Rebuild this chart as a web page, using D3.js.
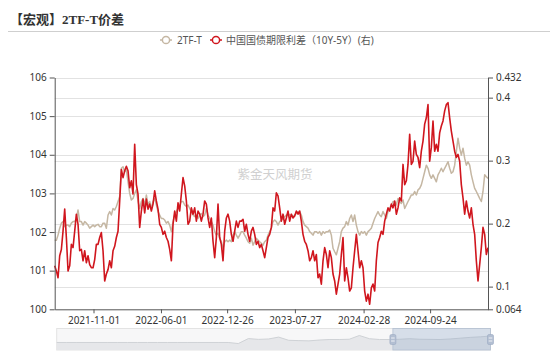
<!DOCTYPE html>
<html><head><meta charset="utf-8">
<script src="https://cdn.jsdelivr.net/npm/d3@7"></script>
<style>body{margin:0;background:#fff;} svg{display:block;}</style>
</head><body><svg id="c" width="550" height="356"></svg>
<script>
const titleText = "【宏观】2TF-T价差";
const seriesNames = ["2TF-T", "中国国债期限利差（10Y-5Y）(右)"];
const watermark = "紫金天风期货";
const startDate = "2021-07-02", endDate = "2025-03-25";
const tickLabels = ["2021-11-01","2022-06-01","2022-12-26","2023-07-27","2024-02-28","2024-09-24"];
const leftTicks = [100,101,102,103,104,105,106];
const rightTicks = [0.064,0.1,0.2,0.3,0.4,0.432];

const spread2TF_T = [
101.79,101.79,101.92,102.10,102.23,102.27,102.14,102.18,102.18,102.14,
102.23,102.27,102.27,102.35,102.57,102.27,102.27,102.18,102.27,102.23,
102.18,102.10,102.14,102.18,102.14,102.18,102.20,102.14,102.14,102.23,
102.23,102.10,102.44,102.53,102.44,102.61,102.57,102.66,102.79,102.92,
103.65,103.69,103.56,103.61,103.30,103.00,102.83,102.87,103.00,103.09,
102.79,
102.61,102.79,102.87,102.70,102.96,102.70,102.79,102.61,102.79,102.87,
102.70,102.53,102.44,102.35,102.35,102.31,102.23,102.27,102.18,102.01,
102.27,102.44,102.53,102.61,102.70,102.79,102.79,102.70,102.66,102.70,
102.61,102.53,102.44,102.40,102.44,102.35,102.44,102.48,102.40,102.44,
102.61,102.44,102.35,102.27,102.18,102.01,101.92,101.97,101.84,101.75,
101.58,101.75,101.79,
101.75,101.79,101.75,101.92,102.01,101.92,101.84,101.92,102.01,102.01,
101.92,101.84,101.75,101.71,101.84,101.66,101.75,101.84,101.79,101.75,
101.71,101.66,101.75,101.79,101.92,102.01,102.10,102.27,102.31,102.27,
102.18,102.27,102.31,102.35,102.40,102.44,102.48,102.44,102.44,102.40,
102.44,102.48,102.53,102.53,102.44,102.27,102.18,102.14,102.10,102.01,
101.97,101.92,102.01,
102.01,101.97,102.01,101.92,102.01,101.97,102.01,102.01,102.05,101.92,
101.58,101.49,101.41,101.58,101.75,102.01,102.10,102.14,102.27,102.18,
102.35,102.44,102.27,102.44,102.18,102.01,101.92,102.01,101.97,102.01,
101.92,102.01,102.05,102.10,102.23,102.35,102.44,102.53,102.44,102.40,
102.53,102.44,102.35,102.53,102.61,102.70,102.79,102.79,102.70,102.87,
102.79,102.74,102.83,
102.61,102.70,102.79,102.87,102.96,102.96,103.05,102.96,103.09,103.13,
103.22,103.39,103.56,103.73,103.65,103.48,103.39,103.48,103.39,103.30,
103.48,103.56,103.65,103.56,103.65,103.73,103.82,103.65,103.52,103.56,
103.73,104.08,104.43,104.17,103.99,104.17,103.91,103.73,103.82,103.73,
103.48,103.30,103.13,103.05,102.96,102.87,102.79,103.05,103.48,103.43,
103.39
];

const termSpread = [
0.133,0.125,0.114,0.149,0.159,0.188,0.223,0.178,0.125,0.133,
0.167,0.162,0.188,0.215,0.199,0.157,0.159,0.141,0.157,0.138,
0.149,0.135,0.130,0.130,0.143,0.167,0.167,0.178,0.186,0.157,
0.109,0.120,0.127,0.141,0.130,0.157,0.164,0.178,0.188,0.236,
0.286,0.273,0.284,0.291,0.284,0.257,0.268,0.247,0.326,0.262,
0.247,
0.194,0.220,0.239,0.217,0.239,0.223,0.231,0.220,0.231,0.252,
0.236,0.223,0.199,0.194,0.183,0.188,0.178,0.172,0.159,0.141,
0.199,0.220,0.204,0.233,0.220,0.247,0.273,0.260,0.236,0.199,
0.204,0.225,0.215,0.225,0.204,0.220,0.215,0.204,0.215,0.236,
0.231,0.209,0.194,0.209,0.172,0.146,0.178,0.231,0.178,0.167,
0.141,0.188,0.209,
0.215,0.204,0.183,0.172,0.188,0.204,0.194,0.204,0.204,0.207,
0.188,0.199,0.183,0.172,0.188,0.194,0.183,0.167,0.172,0.162,
0.167,0.157,0.146,0.162,0.178,0.183,0.194,0.225,0.220,0.249,
0.244,0.225,0.204,0.215,0.199,0.209,0.220,0.204,0.215,0.209,
0.212,0.220,0.215,0.220,0.204,0.183,0.172,0.167,0.157,0.141,
0.146,0.157,0.141,
0.151,0.114,0.120,0.104,0.141,0.162,0.151,0.130,0.157,0.146,
0.120,0.109,0.088,0.104,0.120,0.151,0.178,0.109,0.130,0.114,
0.093,0.098,0.130,0.157,0.183,0.157,0.130,0.141,0.130,0.093,
0.077,0.088,0.072,0.098,0.104,0.093,0.141,0.170,0.178,0.188,
0.183,0.204,0.215,0.225,0.220,0.231,0.225,0.236,0.215,0.225,
0.241,0.236,0.294,
0.262,0.268,0.294,0.342,0.294,0.299,0.331,0.310,0.305,0.289,
0.315,0.331,0.358,0.368,0.389,0.299,0.321,0.363,0.315,0.326,
0.315,0.344,0.355,0.363,0.379,0.389,0.392,0.368,0.347,0.331,
0.315,0.305,0.310,0.299,0.262,0.241,0.215,0.236,0.220,0.209,
0.225,0.199,0.183,0.141,0.109,0.135,0.162,0.194,0.183,0.151,
0.162
];

// overview (dataZoom) shadow, full history
const sliderShadow = [
100.80,100.80,100.80,100.80,100.80,100.80,100.80,100.80,100.80,100.80,
100.80,100.80,100.80,100.80,100.80,100.80,100.80,100.80,100.40,102.25,
101.95,102.10,102.80,101.60,101.50,101.40,101.70,101.90,101.90,102.00,
103.40,102.20,101.90,101.90,102.00,102.20,102.00,101.95,101.90,102.10,
102.40,102.70,102.90,103.20
];
const windowRange = [0.775, 1.0];

const colors = {tan: "#c5b7a3", red: "#d0161e"};
const FONT = "'Noto Sans','Noto Sans CJK SC',sans-serif";

const svg = d3.select("#c");
const m = {l: 54.7, r: 488, t: 77.5, b: 309.3};

const t0 = new Date(startDate), t1 = new Date(endDate);
const n = spread2TF_T.length;
const dates = d3.range(n).map(i => new Date(+t0 + (t1 - t0) * i / (n - 1)));

const x = d3.scaleTime().domain([t0, t1]).range([m.l, m.r]);
const yL = d3.scaleLinear().domain([100, 106]).range([m.b, m.t]);
const yR = d3.scaleLinear().domain([0.064, 0.432]).range([m.b, m.t]);

// title
svg.append("text").attr("x", 10).attr("y", 24)
  .attr("font-family", "'Liberation Serif','Noto Sans CJK SC',serif")
  .attr("font-weight", "bold").attr("font-size", 13).attr("fill", "#333")
  .text(titleText);
svg.append("line").attr("x1", 8).attr("x2", 550).attr("y1", 31.5).attr("y2", 31.5)
  .attr("stroke", "#cfcfcf").attr("stroke-width", 1);

// legend
const legend = svg.append("g").attr("font-family", FONT).attr("font-size", 10).attr("fill", "#555");
const legItems = [
  {name: seriesNames[0], color: colors.tan, cx: 166, tx: 177},
  {name: seriesNames[1], color: colors.red, cx: 216, tx: 226}
];
legItems.forEach(d => {
  legend.append("line").attr("x1", d.cx - 6).attr("x2", d.cx + 6).attr("y1", 40).attr("y2", 40)
    .attr("stroke", d.color).attr("stroke-width", 1.5);
  legend.append("circle").attr("cx", d.cx).attr("cy", 40).attr("r", 3.6)
    .attr("fill", "#fff").attr("stroke", d.color).attr("stroke-width", 1.5);
  legend.append("text").attr("x", d.tx).attr("y", 43.5).text(d.name);
});

// grid
const grid = svg.append("g").attr("stroke", "#e2e2e2").attr("stroke-width", 1);
leftTicks.slice(1).forEach(v => grid.append("line").attr("x1", m.l).attr("x2", m.r)
  .attr("y1", Math.round(yL(v)) + 0.5).attr("y2", Math.round(yL(v)) + 0.5));
rightTicks.slice(1, -1).forEach(v => grid.append("line").attr("x1", m.l).attr("x2", m.r)
  .attr("y1", Math.round(yR(v)) + 0.5).attr("y2", Math.round(yR(v)) + 0.5));

// watermark
svg.append("text").attr("x", 275).attr("y", 179).attr("text-anchor", "middle")
  .attr("font-family", FONT).attr("font-size", 12.5).attr("fill", "#d0d0d0").text(watermark);

// lines
const lineL = d3.line().x((d, i) => x(dates[i])).y(d => yL(d));
const lineR = d3.line().x((d, i) => x(dates[i])).y(d => yR(d));
svg.append("path").datum(spread2TF_T).attr("d", lineL).attr("fill", "none")
  .attr("stroke", colors.tan).attr("stroke-width", 1.5).attr("stroke-linejoin", "round");
svg.append("path").datum(termSpread).attr("d", lineR).attr("fill", "none")
  .attr("stroke", colors.red).attr("stroke-width", 1.6).attr("stroke-linejoin", "round");

// axes
const axisStyle = g => {
  g.selectAll("path,line").attr("stroke", "#555");
  g.selectAll("text").attr("fill", "#333").attr("font-family", FONT).attr("font-size", 10);
};
svg.append("g").attr("transform", `translate(${m.l},0)`)
  .call(d3.axisLeft(yL).tickValues(leftTicks).tickFormat(d3.format("d")).tickSize(5).tickSizeOuter(0).tickPadding(3))
  .call(axisStyle);
svg.append("g").attr("transform", `translate(${m.r},0)`)
  .call(d3.axisRight(yR).tickValues(rightTicks).tickFormat(d => String(d)).tickSize(5).tickSizeOuter(0).tickPadding(3))
  .call(axisStyle);
const parse = d3.timeParse("%Y-%m-%d");
svg.append("g").attr("transform", `translate(0,${m.b})`)
  .call(d3.axisBottom(x).tickValues(tickLabels.map(parse)).tickFormat(d3.timeFormat("%Y-%m-%d")).tickSize(4).tickSizeOuter(0).tickPadding(4))
  .call(axisStyle);

// dataZoom slider
const sz = {l: 56.7, r: 490.5, t: 328.5, b: 350};
const sx = d3.scaleLinear().domain([0, sliderShadow.length - 1]).range([sz.l, sz.r]);
const sy = d3.scaleLinear().domain([98, 106]).range([sz.b, sz.t]);
const sg = svg.append("g");
sg.append("rect").attr("x", sz.l).attr("y", sz.t).attr("width", sz.r - sz.l).attr("height", sz.b - sz.t)
  .attr("fill", "#f7f7f8").attr("stroke", "#e3e3e3");
sg.append("path").datum(sliderShadow)
  .attr("d", d3.area().x((d, i) => sx(i)).y0(sz.b).y1(d => sy(d)))
  .attr("fill", "#e6e7ea");
sg.append("path").datum(sliderShadow)
  .attr("d", d3.line().x((d, i) => sx(i)).y(d => sy(d)))
  .attr("fill", "none").attr("stroke", "#cfd2d6").attr("stroke-width", 1);
const wx0 = sz.l + (sz.r - sz.l) * windowRange[0], wx1 = sz.l + (sz.r - sz.l) * windowRange[1];
sg.append("rect").attr("x", wx0).attr("y", sz.t).attr("width", wx1 - wx0).attr("height", sz.b - sz.t)
  .attr("fill", "rgba(140,165,200,0.3)").attr("stroke", "#b4c0d2").attr("stroke-width", 0.8);
[wx0, wx1].forEach(hx => {
  sg.append("rect").attr("x", hx - 3).attr("y", 334.5).attr("width", 6).attr("height", 10).attr("rx", 1.5)
    .attr("fill", "#b3bfd2").attr("stroke", "#9aa9c2").attr("stroke-width", 0.6);
  [338, 341].forEach(yy => sg.append("line").attr("x1", hx - 1.8).attr("x2", hx + 1.8)
    .attr("y1", yy).attr("y2", yy).attr("stroke", "#fff").attr("stroke-width", 0.8));
});
</script></body></html>
